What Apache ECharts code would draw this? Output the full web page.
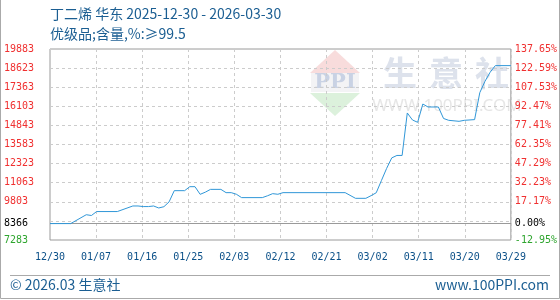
<!DOCTYPE html>
<html><head><meta charset="utf-8">
<script src="https://cdn.jsdelivr.net/npm/echarts@6/dist/echarts.min.js"></script>
<style>html,body{margin:0;padding:0;background:#fff}#c{width:560px;height:300px}</style>
</head><body><div id="c"></div>
<script>
// ---- data ----
const startDate = '2025-12-30';
const dates = ['2025-12-30','2026-01-03','2026-01-06','2026-01-07','2026-01-08','2026-01-12','2026-01-15','2026-01-16','2026-01-17','2026-01-18',
  '2026-01-19','2026-01-20','2026-01-21','2026-01-22','2026-01-23','2026-01-25','2026-01-26','2026-01-27','2026-01-28','2026-01-29',
  '2026-01-30','2026-02-01','2026-02-02','2026-02-03','2026-02-04','2026-02-05','2026-02-09','2026-02-10','2026-02-11','2026-02-12',
  '2026-02-13','2026-02-25','2026-02-27','2026-03-01','2026-03-02','2026-03-03','2026-03-04','2026-03-05','2026-03-06','2026-03-07',
  '2026-03-08','2026-03-09','2026-03-10','2026-03-11','2026-03-12','2026-03-13','2026-03-15','2026-03-16','2026-03-17','2026-03-19',
  '2026-03-20','2026-03-22','2026-03-23','2026-03-24','2026-03-25','2026-03-26','2026-03-29'];
const prices = [8366,8366,8950,8900,9160,9160,9527,9527,9488,9488,
  9527,9396,9480,9800,10538,10538,10800,10800,10295,10440,
  10623,10623,10407,10407,10300,10079,10079,10200,10341,10300,
  10407,10407,10033,10033,10208,10400,11200,12000,12700,12861,
  12861,15663,15200,15046,16254,16057,16057,15300,15178,15112,
  15178,15224,17000,17750,18350,18787,18787];
const baseValue = 8366;
const baseLabelLeft = '8366';
const baseLabelRight = '0.00%';
const xTickLabels = ['12/30','01/07','01/16','01/25','02/03','02/12','02/21','03/02','03/11','03/20','03/29'];
const xSpanDays = 89;
const yTickValues = [7283,8543,9803,11063,12323,13583,14843,16103,17363,18623,19883];
const leftTickLabels = ['7283','','9803','11063','12323','13583','14843','16103','17363','18623','19883'];
const rightTickLabels = ['-12.95%','','17.17%','32.23%','47.29%','62.35%','77.41%','92.47%','107.53%','122.59%','137.65%'];

// ---- build ----
const yMin = yTickValues[0];
const yStep = yTickValues[1] - yTickValues[0];
const yMaxRel = yTickValues[yTickValues.length - 1] - yMin;
const xStep = xSpanDays / (xTickLabels.length - 1);
const t0 = Date.parse(startDate);
const seriesData = dates.map((d, i) => [Math.round((Date.parse(d) - t0) / 864e5), prices[i] - yMin]);
const idxY = v => Math.round(v / yStep);
const colorFor = i => i === 0 ? '#2ea52e' : '#f03030';
const mono = 'DejaVu Sans Mono';
const cjk = '"Noto Sans CJK SC", "Noto Sans", sans-serif';
const wmColor = '#dde2ec';

const chart = echarts.init(document.getElementById('c'), null, {renderer: 'canvas'});
chart.setOption({
  animation: false,
  backgroundColor: '#fff',
  title: {
    left: 50, top: 4, padding: 0,
    text: '丁二烯 华东 2025-12-30 - 2026-03-30\n优级品;含量,%:≥99.5',
    textStyle: {fontFamily: cjk, fontSize: 14, fontWeight: 'normal', color: '#1b5e92', lineHeight: 20}
  },
  grid: {left: 50, right: 49, top: 49, bottom: 60, show: true, borderColor: '#9a9a9a', borderWidth: 1, backgroundColor: 'transparent'},
  xAxis: {
    type: 'value', min: 0, max: xSpanDays, interval: xStep,
    axisLine: {show: false}, axisTick: {show: false},
    splitLine: {show: true, lineStyle: {type: [3, 3], color: '#cccccc', width: 1}},
    axisLabel: {
      margin: 12, fontFamily: mono, fontSize: 10, color: '#0b5088',
      formatter: v => xTickLabels[Math.round(v / xStep)] || ''
    }
  },
  yAxis: [{
    type: 'value', min: 0, max: yMaxRel, interval: yStep, position: 'left',
    axisLine: {show: false}, axisTick: {show: false},
    splitLine: {show: true, lineStyle: {type: [3, 3], color: '#cccccc', width: 1}},
    axisLabel: {
      margin: 46, align: 'left', fontFamily: mono, fontSize: 10,
      formatter: v => leftTickLabels[idxY(v)] || '',
      color: (v) => colorFor(idxY(v))
    }
  }, {
    type: 'value', min: 0, max: yMaxRel, interval: yStep, position: 'right',
    axisLine: {show: false}, axisTick: {show: false}, splitLine: {show: false},
    axisLabel: {
      margin: 4, align: 'left', fontFamily: mono, fontSize: 10,
      formatter: v => rightTickLabels[idxY(v)] || '',
      color: (v) => colorFor(idxY(v))
    }
  }],
  graphic: [
    {type: 'polygon', z: -5, silent: true, shape: {points: [[310, 73], [335, 50], [360, 73]]}, style: {fill: '#f8dcdc'}},
    {type: 'rect', z: -6, silent: true, shape: {x: 311, y: 73, width: 48, height: 19}, style: {fill: '#f3f3f5'}},
    {type: 'text', z: -4, silent: true, style: {x: 335, y: 83, text: 'PPI', fill: '#c9d2e4', font: 'bold 21px "DejaVu Serif"', align: 'center', verticalAlign: 'middle'}},
    {type: 'polygon', z: -5, silent: true, shape: {points: [[310, 93], [360, 93], [335, 116]]}, style: {fill: '#dcf1dc'}},
    {type: 'text', z: -4, silent: true, style: {x: 400, y: 73, text: '生', fill: wmColor, font: 'bold 34px "Noto Sans CJK SC"', align: 'center', verticalAlign: 'middle'}},
    {type: 'text', z: -4, silent: true, style: {x: 446, y: 73, text: '意', fill: wmColor, font: 'bold 34px "Noto Sans CJK SC"', align: 'center', verticalAlign: 'middle'}},
    {type: 'text', z: -4, silent: true, style: {x: 492, y: 73, text: '社', fill: wmColor, font: 'bold 34px "Noto Sans CJK SC"', align: 'center', verticalAlign: 'middle'}},
    {type: 'text', z: -4, silent: true, style: {x: 447, y: 106, text: 'WWW.100PPI.COM', fill: '#e6e6e6', font: '17px "Noto Sans"', align: 'center', verticalAlign: 'middle'}},
    {type: 'line', silent: true, shape: {x1: 10, y1: 275.5, x2: 550, y2: 275.5}, style: {stroke: '#aaaaaa', lineWidth: 1}},
    {type: 'polyline', silent: true, shape: {points: [[0.5, 0], [0.5, 298.5], [559.5, 298.5], [559.5, 0]]}, style: {stroke: '#aaaaaa', lineWidth: 1, fill: null}},
    {type: 'text', silent: true, style: {x: 10, y: 285, text: '© 2026.03 生意社', fill: '#1b5e92', font: '14px ' + cjk, align: 'left', verticalAlign: 'middle'}},
    {type: 'text', silent: true, style: {x: 549, y: 285, text: 'www.100PPI.com', fill: '#1b5e92', font: '14px ' + cjk, align: 'right', verticalAlign: 'middle'}}
  ],
  series: [{
    type: 'line', data: [], z: 1, silent: true,
    markLine: {
      silent: true, symbol: 'none', animation: false,
      lineStyle: {type: 'solid', color: '#9a9a9a', width: 1},
      data: [
        {yAxis: baseValue - yMin, label: {show: true, position: 'start', formatter: baseLabelLeft, distance: 46, align: 'left', color: '#000', fontFamily: mono, fontSize: 10}},
        {yAxis: baseValue - yMin, label: {show: true, position: 'end', formatter: baseLabelRight, distance: 4, color: '#000', fontFamily: mono, fontSize: 10}}
      ]
    }
  }, {
    type: 'line', data: seriesData, showSymbol: false, symbol: 'none', z: 5,
    lineStyle: {color: '#3097d8', width: 1}, itemStyle: {color: '#3097d8'}
  }]
});
</script></body></html>
